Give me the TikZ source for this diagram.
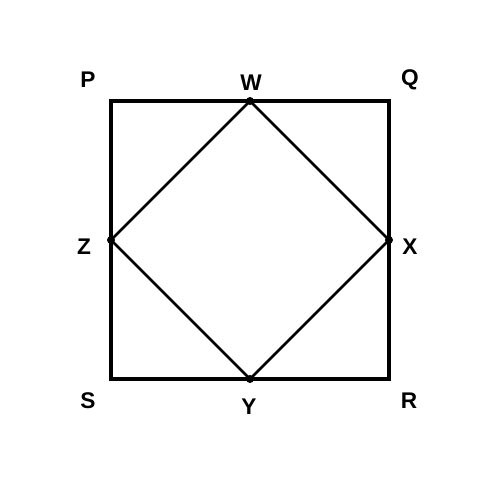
\documentclass[tikz,border=0pt]{standalone}
\usepackage{fontspec}
\setmainfont{Liberation Sans}
\begin{document}
\begin{tikzpicture}[x=0.75pt,y=-0.75pt,
  lbl/.style={font=\bfseries\fontsize{17}{20}\selectfont, inner sep=0pt},
  edge/.style={line width=2.4pt, line join=miter},
  diag/.style={line width=2.1pt},
  pt/.style={circle, fill=black, inner sep=0pt, minimum size=6pt}]
\useasboundingbox (0,0) rectangle (500,500);
\coordinate (P) at (111,101);
\coordinate (Q) at (389,101);
\coordinate (R) at (389,379);
\coordinate (S) at (111,379);
\node[pt] (W) at (250,101) {};
\node[pt] (X) at (389,240) {};
\node[pt] (Y) at (250,379) {};
\node[pt] (Z) at (111,240) {};
\draw[diag] (W.center) -- (X.center) -- (Y.center) -- (Z.center) -- cycle;
\draw[edge] (P) -- (Q) -- (R) -- (S) -- cycle;
\node[lbl] (lP) at (88,80) {P};
\node[lbl] (lW) at (251,83) {W};
\node[lbl] (lQ) at (410,80) {Q};
\node[lbl] (lZ) at (84,247) {Z};
\node[lbl] (lX) at (410,247) {X};
\node[lbl] (lS) at (88,401) {S};
\node[lbl] (lY) at (249,407) {Y};
\node[lbl] (lR) at (409,401) {R};
\end{tikzpicture}
\end{document}
